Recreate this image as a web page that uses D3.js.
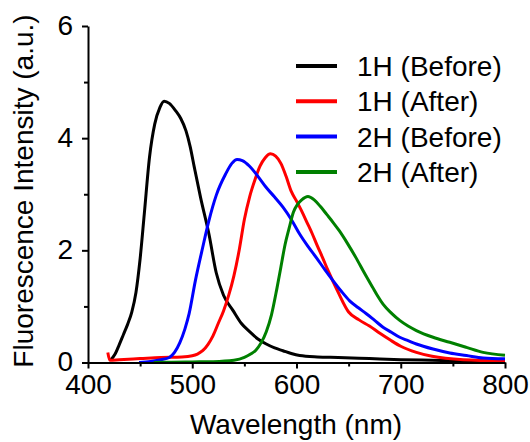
<!DOCTYPE html>
<meta charset="utf-8">
<head>
  <title>Fluorescence spectra</title>
  <script src="https://cdn.jsdelivr.net/npm/d3@7"></script>
  <style>
    body { margin: 0; background: #fff; }
    svg { display: block; font-family: "Liberation Sans", Arial, sans-serif; }
    .axis path, .axis line { stroke: #000; stroke-width: 2; }
    .axis text { font-size: 28px; fill: #000; }
  </style>
</head>
<body>
<svg></svg>
<script>
// 1H (Before)
var wl1b = [422,426,430,434,438,442,446,450,454,459,464,469,473,478,484,489,494,498,502,508,516,523,530,539,547,555,563,571,579,587,595,603,620,640,670,700,730,760,800];
var in1b = [0.05,0.15,0.32,0.5,0.68,0.9,1.25,1.85,2.65,3.66,4.25,4.55,4.66,4.62,4.49,4.35,4.13,3.85,3.48,2.94,2.29,1.6,1.2,0.93,0.7,0.55,0.42,0.33,0.26,0.21,0.16,0.125,0.1,0.09,0.07,0.05,0.04,0.03,0.02];
// 1H (After)
var wl1a = [419,421,430,450,470,490,500,505,510,515,520,525,530,535,540,545,550,555,560,565,570,575,580,585,590,595,600,605,610,615,620,625,630,640,650,660,670,680,690,700,715,730,760,800];
var in1a = [0.18,0.04,0.05,0.07,0.09,0.1,0.12,0.15,0.21,0.32,0.48,0.7,0.92,1.2,1.55,2.0,2.55,2.95,3.25,3.5,3.65,3.72,3.68,3.55,3.32,3.05,2.88,2.7,2.5,2.3,2.08,1.87,1.65,1.25,0.9,0.76,0.65,0.52,0.4,0.29,0.18,0.11,0.05,0.03];
// 2H (Before)
var wl2b = [449,460,470,478,483,488,493,497,503,510,516,523,532,538,543,548,555,563,571,579,587,595,603,611,619,627,635,643,651,659,667,675,683,691,699,707,715,731,747,763,779,800];
var in2b = [0,0.02,0.05,0.09,0.18,0.35,0.6,0.87,1.46,2.05,2.53,2.98,3.36,3.55,3.62,3.6,3.5,3.32,3.12,2.95,2.77,2.55,2.29,2.07,1.87,1.66,1.46,1.27,1.1,0.98,0.87,0.75,0.63,0.54,0.45,0.39,0.33,0.24,0.17,0.125,0.08,0.065];
// 2H (After)
var wl2a = [463,480,500,520,540,550,556,561,566,571,576,581,585,589,593,597,601,605,611,617,623,629,635,641,649,657,665,673,678,683,691,699,707,715,731,747,763,779,800];
var in2a = [0,0.005,0.01,0.015,0.04,0.09,0.15,0.22,0.35,0.55,0.85,1.3,1.7,2.1,2.4,2.68,2.82,2.9,2.96,2.9,2.78,2.64,2.5,2.35,2.12,1.87,1.6,1.34,1.18,1.04,0.88,0.75,0.65,0.57,0.45,0.36,0.27,0.18,0.13];

var names = ["1H (Before)", "1H (After)", "2H (Before)", "2H (After)"];
var colors = ["#000000", "#ff0000", "#0000ff", "#008000"];
var xTicks = [400, 500, 600, 700, 800];
var yTicks = [0, 2, 4, 6];

var W = 530, H = 442;
var margin = {top: 26, left: 88};
var width = 505 - margin.left;
var height = 362.5 - margin.top;

var svg = d3.select("svg").attr("width", W).attr("height", H);
var g = svg.append("g").attr("transform", "translate(" + margin.left + "," + margin.top + ")");

var x = d3.scaleLinear().domain([400, 800]).range([0, width]);
var y = d3.scaleLinear().domain([0, 6]).range([height, 0]);

var series = [[wl1b, in1b], [wl1a, in1a], [wl2b, in2b], [wl2a, in2a]].map(function(s, i) {
  return { name: names[i], color: colors[i], pts: s[0].map(function(w, j) { return [w, s[1][j]]; }) };
});

var line = d3.line()
    .x(function(d) { return x(d[0]); })
    .y(function(d) { return y(d[1]); })
    .curve(d3.curveMonotoneX);

// minor ticks
g.append("g").attr("class", "axis")
    .attr("transform", "translate(0," + height + ")")
    .call(d3.axisBottom(x).tickValues([450, 550, 650, 750]).tickSize(4).tickFormat(""))
    .select(".domain").remove();
g.append("g").attr("class", "axis")
    .call(d3.axisLeft(y).tickValues([1, 3, 5]).tickSize(4).tickFormat(""))
    .select(".domain").remove();

g.selectAll(".spec")
    .data(series)
    .enter().append("path")
    .attr("class", "spec")
    .attr("d", function(d) { return line(d.pts); })
    .attr("fill", "none")
    .attr("stroke", function(d) { return d.color; })
    .attr("stroke-width", 3)
    .attr("stroke-linejoin", "round");

g.append("g").attr("class", "axis")
    .attr("transform", "translate(0," + height + ")")
    .call(d3.axisBottom(x).tickValues(xTicks).tickSize(6).tickSizeOuter(0).tickPadding(6).tickFormat(d3.format("d")));

g.append("g").attr("class", "axis")
    .call(d3.axisLeft(y).tickValues(yTicks).tickSize(6).tickSizeOuter(0).tickPadding(9).tickFormat(d3.format("d")))
    .selectAll("text").attr("dy", "0.3em");

// axis titles
svg.append("text")
    .attr("x", 296).attr("y", 434)
    .attr("text-anchor", "middle")
    .style("font-size", "28px")
    .text("Wavelength (nm)");

svg.append("text")
    .attr("transform", "rotate(-90)")
    .attr("x", -191).attr("y", 33)
    .attr("text-anchor", "middle")
    .style("font-size", "28px")
    .text("Fluorescence Intensity (a.u.)");

// legend
var legend = svg.selectAll(".legend")
    .data(series)
    .enter().append("g")
    .attr("class", "legend")
    .attr("transform", function(d, i) { return "translate(0," + (66 + i * 35.3) + ")"; });

legend.append("line")
    .attr("x1", 296).attr("x2", 337)
    .attr("stroke", function(d) { return d.color; })
    .attr("stroke-width", 4);

legend.append("text")
    .attr("x", 357).attr("y", 10)
    .style("font-size", "28px")
    .text(function(d) { return d.name; });
</script>
</body>
